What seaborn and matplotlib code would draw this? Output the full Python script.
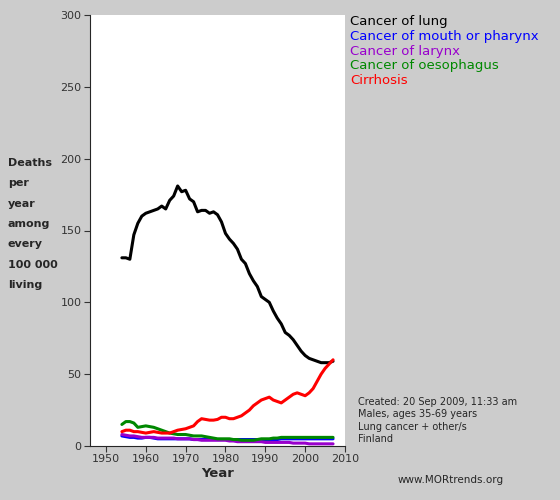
import matplotlib
matplotlib.use("Agg")
import matplotlib.pyplot as plt
import seaborn as sns
import pandas as pd

years = list(range(1954, 2008))
lung = [131,131,130,147,155,160,162,163,164,165,167,165,171,174,181,177,178,172,170,163,164,164,162,163,161,156,
        148,144,141,137,130,127,120,115,111,104,102,100,94,89,85,79,77,74,70,66,63,61,60,59,58,58,58,59]
cirrh = [10,11,11,10,10,9.5,9,9.5,10,9.5,9,9,9,10,11,11.5,12,13,14,17,19,18.5,18,18,18.5,20,
         20,19,19,20,21,23,25,28,30,32,33,34,32,31,30,32,34,36,37,36,35,37,40,45,50,54,57,60]
oeso = [15,17,17,16,13,13.5,14,13.5,13,12,11,10,9,8.5,8,8,8,7.5,7,7,7,6.5,6,5.5,5,5,5,5,4.5,4.5,4,4,4,4,4.5,5,5,5,5.5,5.5,6,6,6,6,6,6,6,6,6,6,6,6,6,6]
mouth = [7,6.5,6,6,5.5,5.5,6,6,5.5,5,5,5,5,5,5,5,5,5,4.5,4.5,4.5,4.5,4.5,4.5,4.5,4.5,4.5,4.5,4.5,4.5,4.5,4.5,4.5,4.5,4.5,4.5,4.5,4.5,4.5,4.5,5,5,5,5,5,5,5,5,5,5,5,5,5,5]
laryn = [8,7.5,7,7,6.5,6,6,6,6,5.5,5.5,5.5,5.5,5.5,5,5,5,5,4.5,4.5,4,4,4,4,4,4,4,3.5,3.5,3,3,3,3,3,3,3,2.5,2.5,2.5,2.5,2.5,2.5,2.5,2,2,2,2,1.5,1.5,1.5,1.5,1.5,1.5,1.5]
names = ["Cancer of lung","Cancer of mouth or pharynx","Cancer of larynx","Cancer of oesophagus","Cirrhosis"]
colors = ["black","#0000ff","#9900cc","#008800","#ff0000"]
series = [lung, mouth, laryn, oeso, cirrh]

rows = []
for n, s in zip(names, series):
    for y, v in zip(years, s):
        rows.append({"Year": y, "Value": v, "Cause": n})
df = pd.DataFrame(rows)

sns.set_style("ticks")
fig = plt.figure(figsize=(5.6, 5.0), dpi=100, facecolor="#cccccc")
ax = fig.add_axes([90/560, 54/500, 255/560, 431/500])
ax.set_facecolor("white")
sns.lineplot(data=df, x="Year", y="Value", hue="Cause", hue_order=names, palette=colors,
             linewidth=2.2, legend=False, ax=ax)
ax.set_xlim(1946, 2010)
ax.set_ylim(0, 300)
ax.set_xticks(range(1950, 2011, 10))
ax.set_yticks(range(0, 301, 50))
ax.tick_params(labelsize=8, colors="#333333", length=4, pad=2)
for sp in ["top", "right"]:
    ax.spines[sp].set_visible(False)
ax.set_xlabel("Year", fontsize=9.5, fontweight="bold", labelpad=2)
ax.set_ylabel("")
fig.text(8/560, 1-158/500, "Deaths\n\nper\n\nyear\n\namong\n\nevery\n\n100 000\n\nliving",
         fontsize=8, fontweight="bold", va="top", ha="left", linespacing=1.02)
for i, (n, c) in enumerate(zip(names, colors)):
    fig.text(350/560, 1-(22+14.5*i)/500, n, color=c, fontsize=9.5, va="center")
fig.text(358/560, 1-397/500, "Created: 20 Sep 2009, 11:33 am\nMales, ages 35-69 years\nLung cancer + other/s\nFinland",
         fontsize=7, va="top", linespacing=1.3)
fig.text(398/560, 1-480/500, "www.MORtrends.org", fontsize=7.5, va="center")
fig.savefig("out.png", dpi=100, facecolor=fig.get_facecolor())
